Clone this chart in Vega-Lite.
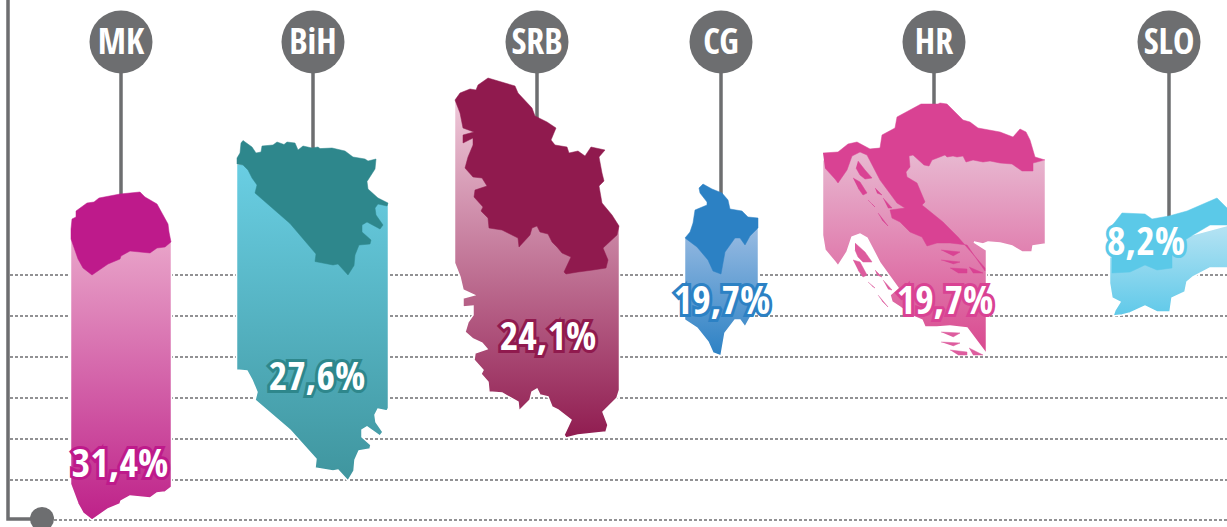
{"$schema":"https://vega.github.io/schema/vega-lite/v6.json","width":1227,"height":527,"padding":0,"autosize":{"type":"none"},"background":"white","view":{"stroke":null},
"datasets":{
"grid":[{"y":27.5,"x":1.0,"x2":122.7},{"y":31.6,"x":1.0,"x2":122.7},{"y":35.7,"x":1.0,"x2":122.7},{"y":39.8,"x":1.0,"x2":122.7},{"y":43.9,"x":1.0,"x2":122.7},{"y":48.0,"x":1.0,"x2":122.7},{"y":52.0,"x":5.4,"x2":122.7}],
"frame":[{"x":0.8,"y":0},{"x":0.8,"y":51.9},{"x":4.2,"y":51.9}],
"badges":[{"name":"MK","x":12.1,"y":4.2,"y2":19.5},{"name":"BiH","x":31.3,"y":4.2,"y2":14.9},{"name":"SRB","x":53.7,"y":4.2,"y2":11.8},{"name":"CG","x":72.1,"y":4.2,"y2":19.5},{"name":"HR","x":93.4,"y":4.2,"y2":10.6},{"name":"SLO","x":116.9,"y":4.2,"y2":21.8}],
"dot":[{"x":4.2,"y":51.9}],
"labels":[{"t":"31,4%","x":12.0,"y":46.5,"c":"#BE1A8B"},{"t":"27,6%","x":31.7,"y":37.8,"c":"#2E878C"},{"t":"24,1%","x":54.8,"y":33.8,"c":"#901A4E"},{"t":"19,7%","x":72.2,"y":30.2,"c":"#2C81C4"},{"t":"19,7%","x":94.5,"y":30.2,"c":"#D94293"},{"t":"8,2%","x":114.6,"y":24.3,"c":"#5BC9E8"}],
"MK_bar":[{"x":7.05,"y":23.2},{"x":17.15,"y":24.2},{"x":17.15,"y":48.7},{"x":16.5,"y":49.2},{"x":15.7,"y":49.3},{"x":15.0,"y":49.8},{"x":13.0,"y":49.6},{"x":12.1,"y":50.1},{"x":12.0,"y":50.4},{"x":10.8,"y":50.9},{"x":9.2,"y":52.0},{"x":8.3,"y":51.3},{"x":7.8,"y":50.4},{"x":7.05,"y":48.4},{"x":7.05,"y":23.2}],
"MK_top":[{"x":7.6,"y":21.1},{"x":8.7,"y":20.3},{"x":9.4,"y":20.2},{"x":9.9,"y":19.8},{"x":12.0,"y":19.4},{"x":14.0,"y":19.2},{"x":14.5,"y":19.7},{"x":15.7,"y":20.4},{"x":16.8,"y":22.4},{"x":16.9,"y":23.2},{"x":17.1,"y":24.2},{"x":16.5,"y":24.7},{"x":15.7,"y":24.8},{"x":15.0,"y":25.3},{"x":13.0,"y":25.1},{"x":12.1,"y":25.6},{"x":12.0,"y":25.9},{"x":10.8,"y":26.4},{"x":9.2,"y":27.5},{"x":8.3,"y":26.8},{"x":7.8,"y":25.9},{"x":7.1,"y":23.9},{"x":7.1,"y":22.9},{"x":7.2,"y":21.9},{"x":7.6,"y":21.7},{"x":7.6,"y":21.1}],
"BiH_bar":[{"x":23.65,"y":16.4},{"x":31.0,"y":16.0},{"x":38.85,"y":20.3},{"x":38.85,"y":40.8},{"x":38.7,"y":41.1},{"x":37.8,"y":40.9},{"x":37.5,"y":41.5},{"x":37.6,"y":42.2},{"x":38.3,"y":43.2},{"x":38.0,"y":43.6},{"x":36.7,"y":42.7},{"x":36.2,"y":43.0},{"x":36.2,"y":43.7},{"x":37.1,"y":44.5},{"x":37.0,"y":44.9},{"x":35.9,"y":45.1},{"x":35.5,"y":46.0},{"x":35.4,"y":47.1},{"x":34.8,"y":48.1},{"x":33.8,"y":47.0},{"x":33.3,"y":47.1},{"x":31.5,"y":46.8},{"x":31.6,"y":45.9},{"x":29.0,"y":43.0},{"x":25.5,"y":40.0},{"x":25.7,"y":39.2},{"x":25.2,"y":38.0},{"x":24.7,"y":37.1},{"x":23.65,"y":37.0},{"x":23.65,"y":16.4}],
"BiH_top":[{"x":23.7,"y":15.8},{"x":24.0,"y":15.3},{"x":24.1,"y":14.3},{"x":24.3,"y":14.05},{"x":25.2,"y":14.7},{"x":25.6,"y":15.3},{"x":26.1,"y":15.2},{"x":26.2,"y":14.6},{"x":27.3,"y":14.5},{"x":27.7,"y":14.2},{"x":28.4,"y":14.45},{"x":28.7,"y":14.2},{"x":29.5,"y":14.3},{"x":29.8,"y":15.0},{"x":30.3,"y":14.6},{"x":31.2,"y":14.8},{"x":31.8,"y":14.7},{"x":32.0,"y":14.86},{"x":33.2,"y":14.8},{"x":34.5,"y":15.1},{"x":35.3,"y":15.7},{"x":36.5,"y":15.9},{"x":36.8,"y":16.1},{"x":37.6,"y":15.9},{"x":37.5,"y":16.9},{"x":36.7,"y":18.15},{"x":36.8,"y":18.9},{"x":37.8,"y":19.8},{"x":38.8,"y":20.3},{"x":38.7,"y":20.6},{"x":37.8,"y":20.4},{"x":37.5,"y":20.8},{"x":37.6,"y":21.5},{"x":38.3,"y":22.5},{"x":38.0,"y":22.9},{"x":36.7,"y":22.2},{"x":36.2,"y":22.5},{"x":36.2,"y":23.2},{"x":37.1,"y":24.0},{"x":37.0,"y":24.4},{"x":35.9,"y":24.5},{"x":35.5,"y":25.5},{"x":35.4,"y":26.55},{"x":34.8,"y":27.5},{"x":33.8,"y":26.4},{"x":33.3,"y":26.5},{"x":31.5,"y":26.15},{"x":31.6,"y":25.4},{"x":29.0,"y":22.35},{"x":25.5,"y":19.3},{"x":25.7,"y":18.5},{"x":25.2,"y":17.8},{"x":24.8,"y":17.0},{"x":24.3,"y":16.5},{"x":23.7,"y":16.4},{"x":23.7,"y":15.8}],
"SRB_bar":[{"x":45.45,"y":10.0},{"x":52.0,"y":10.0},{"x":61.95,"y":22.6},{"x":61.95,"y":39.0},{"x":61.7,"y":39.8},{"x":60.3,"y":41.2},{"x":60.8,"y":42.5},{"x":60.6,"y":43.2},{"x":57.8,"y":43.5},{"x":56.6,"y":43.8},{"x":56.4,"y":43.5},{"x":57.1,"y":42.0},{"x":55.8,"y":41.0},{"x":55.2,"y":40.7},{"x":54.8,"y":39.7},{"x":54.0,"y":39.5},{"x":53.7,"y":38.9},{"x":53.2,"y":39.2},{"x":53.0,"y":40.0},{"x":51.9,"y":41.1},{"x":51.8,"y":40.2},{"x":50.2,"y":39.3},{"x":48.9,"y":39.2},{"x":48.8,"y":38.2},{"x":48.1,"y":37.4},{"x":48.3,"y":37.0},{"x":47.4,"y":36.0},{"x":47.5,"y":35.3},{"x":48.7,"y":34.9},{"x":48.2,"y":34.3},{"x":47.3,"y":33.9},{"x":46.5,"y":33.2},{"x":46.8,"y":32.2},{"x":47.3,"y":31.5},{"x":47.3,"y":30.6},{"x":46.3,"y":30.7},{"x":46.3,"y":29.8},{"x":47.4,"y":29.5},{"x":46.3,"y":29.0},{"x":46.0,"y":27.7},{"x":45.45,"y":26.3},{"x":45.45,"y":10.0}],
"SRB_top":[{"x":45.5,"y":10.0},{"x":46.0,"y":9.3},{"x":47.0,"y":8.9},{"x":47.6,"y":9.0},{"x":47.8,"y":8.5},{"x":48.8,"y":7.8},{"x":51.5,"y":8.6},{"x":51.8,"y":9.3},{"x":53.2,"y":10.8},{"x":53.5,"y":11.6},{"x":54.7,"y":12.2},{"x":55.6,"y":12.8},{"x":55.1,"y":14.0},{"x":55.5,"y":14.5},{"x":56.7,"y":14.7},{"x":56.9,"y":15.3},{"x":57.8,"y":15.1},{"x":58.5,"y":15.6},{"x":59.1,"y":14.7},{"x":60.5,"y":15.0},{"x":59.9,"y":15.7},{"x":60.2,"y":17.3},{"x":60.4,"y":18.1},{"x":59.9,"y":18.6},{"x":60.2,"y":20.3},{"x":61.2,"y":21.5},{"x":61.9,"y":22.6},{"x":61.7,"y":23.5},{"x":60.3,"y":24.8},{"x":60.8,"y":26.0},{"x":60.6,"y":26.8},{"x":59.3,"y":27.0},{"x":57.8,"y":27.2},{"x":56.6,"y":27.4},{"x":56.4,"y":27.2},{"x":57.1,"y":25.7},{"x":56.2,"y":25.3},{"x":55.7,"y":24.7},{"x":55.2,"y":24.2},{"x":54.8,"y":23.4},{"x":54.0,"y":23.2},{"x":53.7,"y":22.6},{"x":53.2,"y":22.8},{"x":53.0,"y":23.5},{"x":51.9,"y":24.7},{"x":51.8,"y":23.8},{"x":50.2,"y":23.0},{"x":48.9,"y":22.8},{"x":48.8,"y":21.8},{"x":48.1,"y":21.1},{"x":48.3,"y":20.7},{"x":47.4,"y":19.7},{"x":47.5,"y":19.0},{"x":48.7,"y":18.6},{"x":48.2,"y":17.8},{"x":47.3,"y":17.7},{"x":46.5,"y":16.8},{"x":46.8,"y":15.7},{"x":47.3,"y":14.5},{"x":47.3,"y":13.8},{"x":46.3,"y":14.3},{"x":46.3,"y":13.5},{"x":47.4,"y":13.2},{"x":46.3,"y":12.8},{"x":46.0,"y":11.3},{"x":45.5,"y":10.0}],
"CG_bar":[{"x":68.45,"y":23.8},{"x":75.85,"y":22.8},{"x":75.85,"y":31.0},{"x":75.0,"y":31.8},{"x":74.5,"y":32.7},{"x":74.0,"y":32.0},{"x":73.5,"y":32.0},{"x":72.5,"y":33.3},{"x":72.1,"y":35.6},{"x":71.3,"y":35.3},{"x":70.8,"y":34.2},{"x":69.7,"y":32.8},{"x":68.45,"y":32.0},{"x":68.45,"y":23.8}],
"CG_top":[{"x":69.9,"y":18.8},{"x":70.3,"y":18.4},{"x":71.2,"y":18.9},{"x":72.2,"y":19.3},{"x":72.8,"y":20.0},{"x":73.0,"y":20.9},{"x":74.2,"y":21.1},{"x":74.8,"y":21.7},{"x":75.8,"y":21.8},{"x":75.8,"y":22.8},{"x":75.0,"y":23.6},{"x":74.5,"y":24.5},{"x":74.0,"y":23.8},{"x":73.5,"y":23.8},{"x":72.5,"y":25.2},{"x":72.1,"y":27.4},{"x":71.3,"y":27.1},{"x":70.8,"y":26.0},{"x":69.7,"y":24.7},{"x":68.5,"y":23.8},{"x":69.0,"y":23.2},{"x":69.3,"y":22.3},{"x":69.5,"y":21.0},{"x":70.7,"y":20.5},{"x":70.7,"y":20.2},{"x":70.0,"y":19.3},{"x":69.9,"y":18.8}],
"HR_bar":[{"x":82.25,"y":16.0},{"x":86.0,"y":14.9},{"x":95.0,"y":14.0},{"x":102.0,"y":15.5},{"x":103.3,"y":16.1},{"x":104.55,"y":16.0},{"x":104.55,"y":24.4},{"x":103.3,"y":24.6},{"x":103.2,"y":25.2},{"x":102.2,"y":25.2},{"x":101.2,"y":24.6},{"x":100.0,"y":24.3},{"x":98.8,"y":24.2},{"x":98.3,"y":24.4},{"x":97.4,"y":24.2},{"x":98.65,"y":25.0},{"x":98.65,"y":35.3},{"x":98.5,"y":35.2},{"x":96.7,"y":32.8},{"x":95.0,"y":32.6},{"x":93.7,"y":32.7},{"x":92.5,"y":32.7},{"x":92.2,"y":32.0},{"x":91.0,"y":31.5},{"x":90.0,"y":30.7},{"x":89.2,"y":30.2},{"x":89.0,"y":29.5},{"x":89.8,"y":28.8},{"x":88.0,"y":26.3},{"x":86.7,"y":23.8},{"x":86.0,"y":23.4},{"x":85.2,"y":23.7},{"x":84.7,"y":25.2},{"x":83.8,"y":26.6},{"x":83.5,"y":26.2},{"x":82.5,"y":25.0},{"x":82.25,"y":23.5},{"x":82.25,"y":16.0}],
"HR_low":[{"part":"a","x":85.5,"y":24.3},{"part":"a","x":86.5,"y":25.2},{"part":"a","x":87.2,"y":26.2},{"part":"a","x":86.3,"y":26.2},{"part":"a","x":85.8,"y":25.7},{"part":"a","x":85.5,"y":25.0},{"part":"b","x":85.3,"y":26.0},{"part":"b","x":86.0,"y":26.2},{"part":"b","x":86.7,"y":27.5},{"part":"b","x":86.3,"y":27.7},{"part":"b","x":85.8,"y":27.0},{"part":"c","x":87.5,"y":27.0},{"part":"c","x":88.2,"y":27.7},{"part":"c","x":87.7,"y":27.5},{"part":"d","x":88.3,"y":28.0},{"part":"d","x":89.2,"y":29.0},{"part":"d","x":88.8,"y":28.9},{"part":"e","x":86.8,"y":28.2},{"part":"e","x":87.5,"y":28.8},{"part":"e","x":87.2,"y":28.6},{"part":"f","x":87.8,"y":29.5},{"part":"f","x":88.8,"y":30.7},{"part":"f","x":88.2,"y":30.1},{"part":"g","x":94.1,"y":33.2},{"part":"g","x":96.0,"y":33.3},{"part":"g","x":95.3,"y":33.7},{"part":"h","x":94.1,"y":34.2},{"part":"h","x":96.0,"y":34.3},{"part":"h","x":95.3,"y":34.6},{"part":"i","x":95.0,"y":35.0},{"part":"i","x":96.7,"y":35.2},{"part":"i","x":96.7,"y":35.5},{"part":"i","x":95.8,"y":35.5},{"part":"j","x":96.9,"y":34.8},{"part":"j","x":98.3,"y":35.5},{"part":"j","x":97.3,"y":35.5}],
"HR_top":[{"part":"main","x":82.3,"y":15.3},{"part":"main","x":83.8,"y":15.2},{"part":"main","x":84.8,"y":14.4},{"part":"main","x":85.7,"y":14.2},{"part":"main","x":87.0,"y":14.9},{"part":"main","x":88.0,"y":14.8},{"part":"main","x":88.2,"y":13.5},{"part":"main","x":89.5,"y":12.8},{"part":"main","x":89.7,"y":11.7},{"part":"main","x":92.1,"y":10.4},{"part":"main","x":93.8,"y":10.4},{"part":"main","x":94.0,"y":10.3},{"part":"main","x":94.7,"y":10.4},{"part":"main","x":96.3,"y":12.0},{"part":"main","x":97.0,"y":12.2},{"part":"main","x":97.8,"y":12.8},{"part":"main","x":100.0,"y":13.2},{"part":"main","x":101.3,"y":13.7},{"part":"main","x":102.0,"y":12.9},{"part":"main","x":102.6,"y":13.2},{"part":"main","x":103.0,"y":14.0},{"part":"main","x":103.5,"y":15.7},{"part":"main","x":104.5,"y":16.0},{"part":"main","x":103.3,"y":16.3},{"part":"main","x":103.3,"y":17.1},{"part":"main","x":102.2,"y":17.1},{"part":"main","x":101.2,"y":16.4},{"part":"main","x":100.0,"y":16.3},{"part":"main","x":99.0,"y":16.1},{"part":"main","x":98.3,"y":16.2},{"part":"main","x":97.3,"y":16.0},{"part":"main","x":96.6,"y":16.2},{"part":"main","x":96.3,"y":15.6},{"part":"main","x":95.7,"y":15.7},{"part":"main","x":95.3,"y":15.6},{"part":"main","x":94.7,"y":15.7},{"part":"main","x":94.5,"y":15.5},{"part":"main","x":93.2,"y":16.0},{"part":"main","x":92.9,"y":16.6},{"part":"main","x":92.4,"y":16.5},{"part":"main","x":91.3,"y":15.5},{"part":"main","x":90.9,"y":15.6},{"part":"main","x":91.0,"y":16.7},{"part":"main","x":90.6,"y":17.2},{"part":"main","x":90.7,"y":17.7},{"part":"main","x":91.7,"y":18.3},{"part":"main","x":92.5,"y":20.2},{"part":"main","x":92.2,"y":20.5},{"part":"main","x":94.3,"y":22.2},{"part":"main","x":95.8,"y":23.7},{"part":"main","x":98.5,"y":26.8},{"part":"main","x":98.5,"y":27.1},{"part":"main","x":96.7,"y":24.5},{"part":"main","x":95.0,"y":24.3},{"part":"main","x":93.7,"y":24.3},{"part":"main","x":92.7,"y":24.6},{"part":"main","x":92.2,"y":23.7},{"part":"main","x":91.0,"y":23.2},{"part":"main","x":90.0,"y":22.2},{"part":"main","x":89.2,"y":21.8},{"part":"main","x":89.0,"y":21.0},{"part":"main","x":90.5,"y":20.8},{"part":"main","x":89.7,"y":20.3},{"part":"main","x":88.0,"y":18.0},{"part":"main","x":86.7,"y":15.5},{"part":"main","x":86.0,"y":15.2},{"part":"main","x":85.2,"y":15.6},{"part":"main","x":84.7,"y":17.0},{"part":"main","x":83.8,"y":18.3},{"part":"main","x":83.5,"y":17.9},{"part":"main","x":82.5,"y":16.8},
{"part":"a","x":85.8,"y":16.1},{"part":"a","x":86.5,"y":17.0},{"part":"a","x":87.2,"y":17.8},{"part":"a","x":86.5,"y":17.9},{"part":"a","x":86.0,"y":17.5},{"part":"a","x":85.6,"y":16.8},{"part":"b","x":85.3,"y":17.8},{"part":"b","x":86.0,"y":18.2},{"part":"b","x":86.7,"y":19.3},{"part":"b","x":86.3,"y":19.5},{"part":"b","x":85.8,"y":18.8},{"part":"c","x":87.5,"y":18.8},{"part":"c","x":88.2,"y":19.5},{"part":"c","x":87.7,"y":19.3},{"part":"d","x":88.3,"y":19.8},{"part":"d","x":89.2,"y":20.8},{"part":"d","x":88.8,"y":20.8},{"part":"e","x":86.8,"y":20.0},{"part":"e","x":87.5,"y":20.7},{"part":"e","x":87.2,"y":20.4},{"part":"f","x":87.8,"y":21.3},{"part":"f","x":88.8,"y":22.6},{"part":"f","x":88.2,"y":22.0},{"part":"g","x":94.1,"y":25.0},{"part":"g","x":96.0,"y":25.2},{"part":"g","x":95.3,"y":25.6},{"part":"h","x":94.1,"y":26.0},{"part":"h","x":96.0,"y":26.2},{"part":"h","x":95.3,"y":26.4},{"part":"i","x":95.0,"y":26.8},{"part":"i","x":96.7,"y":26.9},{"part":"i","x":96.7,"y":27.3},{"part":"i","x":95.8,"y":27.3},{"part":"j","x":96.9,"y":26.7},{"part":"j","x":98.3,"y":27.3},{"part":"j","x":97.3,"y":27.3}],
"SLO_bar":[{"x":110.95,"y":25.7},{"x":122.9,"y":22.5},{"x":122.9,"y":26.8},{"x":121.0,"y":26.8},{"x":119.3,"y":27.7},{"x":118.7,"y":28.2},{"x":118.5,"y":29.2},{"x":117.2,"y":29.8},{"x":117.0,"y":31.2},{"x":115.7,"y":31.2},{"x":114.5,"y":30.6},{"x":113.0,"y":31.3},{"x":112.2,"y":31.5},{"x":111.3,"y":31.6},{"x":111.5,"y":31.0},{"x":112.0,"y":30.2},{"x":111.2,"y":29.8},{"x":110.95,"y":28.3},{"x":110.95,"y":25.7}],
"SLO_top":[{"x":112.2,"y":21.3},{"x":114.5,"y":21.4},{"x":115.2,"y":21.9},{"x":116.9,"y":21.6},{"x":118.7,"y":21.1},{"x":121.7,"y":19.8},{"x":122.7,"y":20.8},{"x":122.7,"y":22.5},{"x":121.0,"y":22.5},{"x":119.3,"y":23.5},{"x":118.0,"y":24.3},{"x":117.2,"y":25.2},{"x":117.2,"y":26.8},{"x":115.7,"y":27.0},{"x":114.5,"y":26.5},{"x":113.0,"y":27.2},{"x":111.2,"y":27.3},{"x":111.2,"y":25.7},{"x":111.0,"y":24.3},{"x":110.8,"y":23.0},{"x":111.5,"y":22.2},{"x":112.2,"y":21.3}]
},
"encoding":{"x":{"field":"x","type":"quantitative","scale":{"domain":[0,122.7],"nice":false,"zero":false},"axis":null},"y":{"field":"y","type":"quantitative","scale":{"domain":[0,52.7],"reverse":true,"nice":false,"zero":false},"axis":null}},
"layer":[
{"data":{"name":"grid"},"mark":{"type":"rule","color":"#6D6E70","strokeWidth":1.5,"strokeDash":[3,2]},"encoding":{"x2":{"field":"x2"}}},
{"data":{"name":"frame"},"mark":{"type":"line","color":"#6D6E70","strokeWidth":3.5},"encoding":{"order":{"value":null}}},
{"data":{"name":"dot"},"mark":{"type":"circle","color":"#6D6E70","opacity":1,"size":576}},
{"data":{"name":"badges"},"mark":{"type":"rule","color":"#6D6E70","strokeWidth":3.5},"encoding":{"y2":{"field":"y2"}}},
{"data":{"name":"badges"},"mark":{"type":"circle","color":"#6D6E70","opacity":1,"size":3969}},
{"data":{"name":"badges"},"mark":{"type":"text","color":"white","font":"Open Sans Condensed","fontWeight":"bold","fontSize":36,"baseline":"middle","align":"center","dy":1},"encoding":{"text":{"field":"name"}}},
{"data":{"name":"MK_bar"},"mark":{"type":"line","stroke":"white","strokeWidth":1.5,"fill":{"gradient":"linear","x1":0,"y1":0,"x2":0,"y2":1,"stops":[{"offset":0,"color":"#EAA8CB"},{"offset":1,"color":"#BE2189"}]}},"encoding":{"order":{"value":null}}},
{"data":{"name":"BiH_bar"},"mark":{"type":"line","stroke":"white","strokeWidth":1.5,"fill":{"gradient":"linear","x1":0,"y1":0,"x2":0,"y2":1,"stops":[{"offset":0,"color":"#6ACFE4"},{"offset":1,"color":"#3F959E"}]}},"encoding":{"order":{"value":null}}},
{"data":{"name":"SRB_bar"},"mark":{"type":"line","stroke":"white","strokeWidth":1.5,"fill":{"gradient":"linear","x1":0,"y1":0,"x2":0,"y2":1,"stops":[{"offset":0,"color":"#EFC8D9"},{"offset":1,"color":"#901C50"}]}},"encoding":{"order":{"value":null}}},
{"data":{"name":"CG_bar"},"mark":{"type":"line","stroke":"white","strokeWidth":1.5,"fill":{"gradient":"linear","x1":0,"y1":0,"x2":0,"y2":1,"stops":[{"offset":0,"color":"#98BBE2"},{"offset":1,"color":"#2C81C4"}]}},"encoding":{"order":{"value":null}}},
{"data":{"name":"HR_bar"},"mark":{"type":"line","stroke":"white","strokeWidth":1.5,"fill":{"gradient":"linear","x1":0,"y1":0,"x2":0,"y2":1,"stops":[{"offset":0,"color":"#E9C0D5"},{"offset":1,"color":"#D9488F"}]}},"encoding":{"order":{"value":null}}},
{"data":{"name":"HR_low"},"mark":{"type":"line","fill":"#DD5C9E","stroke":"#DD5C9E","strokeWidth":0.5},"encoding":{"detail":{"field":"part"},"order":{"value":null}}},
{"data":{"name":"SLO_bar"},"mark":{"type":"line","stroke":"white","strokeWidth":1.5,"fill":{"gradient":"linear","x1":0,"y1":0,"x2":0,"y2":1,"stops":[{"offset":0,"color":"#B6E3F3"},{"offset":1,"color":"#5FC9E9"}]}},"encoding":{"order":{"value":null}}},
{"data":{"name":"MK_top"},"mark":{"type":"line","fill":"#BE1A8B","stroke":"#BE1A8B","strokeWidth":0.5},"encoding":{"order":{"value":null}}},
{"data":{"name":"BiH_top"},"mark":{"type":"line","fill":"#2E878C","stroke":"#2E878C","strokeWidth":0.5},"encoding":{"order":{"value":null}}},
{"data":{"name":"SRB_top"},"mark":{"type":"line","fill":"#901A4E","stroke":"#901A4E","strokeWidth":0.5},"encoding":{"order":{"value":null}}},
{"data":{"name":"CG_top"},"mark":{"type":"line","fill":"#2C81C4","stroke":"#2C81C4","strokeWidth":0.5},"encoding":{"order":{"value":null}}},
{"data":{"name":"HR_top"},"mark":{"type":"line","fill":"#D94293","stroke":"#D94293","strokeWidth":0.5},"encoding":{"detail":{"field":"part"},"order":{"value":null}}},
{"data":{"name":"SLO_top"},"mark":{"type":"line","fill":"#5BC9E8","stroke":"#5BC9E8","strokeWidth":0.5},"encoding":{"order":{"value":null}}},
{"data":{"name":"labels"},"mark":{"type":"text","font":"Open Sans Condensed","fontWeight":"bold","fontSize":40,"baseline":"middle","align":"center","strokeWidth":6,"strokeJoin":"miter"},"encoding":{"text":{"field":"t"},"stroke":{"field":"c","type":"nominal","scale":null},"fill":{"field":"c","type":"nominal","scale":null}}},
{"data":{"name":"labels"},"mark":{"type":"text","color":"white","font":"Open Sans Condensed","fontWeight":"bold","fontSize":40,"baseline":"middle","align":"center"},"encoding":{"text":{"field":"t"}}}
]}
